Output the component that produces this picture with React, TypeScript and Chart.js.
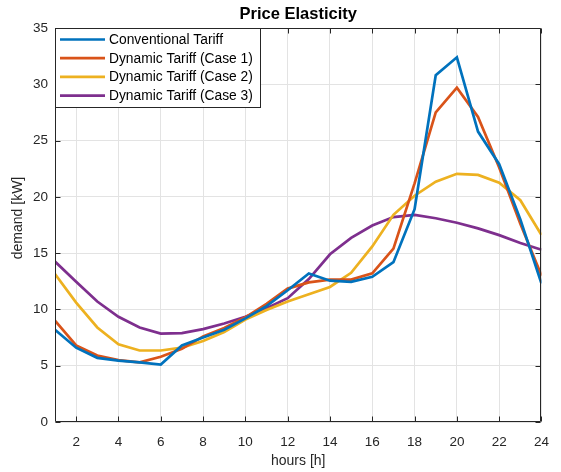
import React, { useEffect, useRef } from "react";
import { Chart, registerables } from "chart.js";

Chart.register(...registerables);

// Hourly demand profiles [kW] under the different tariff schemes
const hours = [1, 2, 3, 4, 5, 6, 7, 8, 9, 10, 11, 12, 13, 14, 15, 16, 17, 18, 19, 20, 21, 22, 23, 24];
const conventionalTariff = [8.2, 6.6, 5.7, 5.45, 5.3, 5.1, 6.8, 7.5, 8.2, 9.2, 10.3, 11.7, 13.2, 12.55, 12.45, 12.9, 14.2, 18.9, 30.8, 32.4, 25.8, 22.9, 18.0, 12.3];
const dynamicCase1 = [9.0, 6.8, 5.9, 5.5, 5.3, 5.8, 6.5, 7.6, 8.35, 9.3, 10.5, 11.85, 12.4, 12.65, 12.65, 13.2, 15.4, 21.2, 27.5, 29.7, 27.1, 22.6, 17.6, 13.0];
const dynamicCase2 = [13.15, 10.6, 8.4, 6.9, 6.35, 6.35, 6.6, 7.2, 8.0, 9.1, 9.95, 10.7, 11.35, 12.0, 13.25, 15.6, 18.4, 20.1, 21.35, 22.05, 21.95, 21.25, 19.7, 16.6];
const dynamicCase3 = [14.25, 12.45, 10.7, 9.35, 8.4, 7.85, 7.9, 8.25, 8.75, 9.35, 10.1, 11.0, 12.7, 14.9, 16.35, 17.45, 18.2, 18.4, 18.1, 17.7, 17.2, 16.6, 15.9, 15.3];

const seriesNames = [
  "Conventional Tariff",
  "Dynamic Tariff (Case 1)",
  "Dynamic Tariff (Case 2)",
  "Dynamic Tariff (Case 3)",
];
const seriesColors = ["#0072BD", "#D95319", "#EDB120", "#7E2F8E"];

const xTickValues = [2, 4, 6, 8, 10, 12, 14, 16, 18, 20, 22, 24];
const yTickValues = [0, 5, 10, 15, 20, 25, 30, 35];

const chartTitle = "Price Elasticity";
const xAxisTitle = "hours [h]";
const yAxisTitle = "demand [kW]";

const FONT = '"Liberation Sans", Arial, Helvetica, sans-serif';
const AXIS_COLOR = "#262626";
const GRID_COLOR = "#e3e3e3";

// Box frame, inward tick marks, titles and the boxed legend
const decorPlugin = {
  id: "decor",
  afterDraw(chart: any) {
    const { ctx, chartArea: a, scales } = chart;
    const xs = scales.x;
    const ys = scales.y;
    const L = Math.round(a.left) + 0.5;
    const R = Math.round(a.right) - 0.5;
    const T = Math.round(a.top) + 0.5;
    const B = Math.round(a.bottom) - 0.5;
    const tick = 5;

    ctx.save();
    ctx.strokeStyle = AXIS_COLOR;
    ctx.lineWidth = 1;
    ctx.beginPath();
    ctx.rect(L, T, R - L, B - T);
    ctx.stroke();

    ctx.beginPath();
    for (const v of xTickValues) {
      const px = Math.round(xs.getPixelForValue(v)) + 0.5;
      ctx.moveTo(px, B);
      ctx.lineTo(px, B - tick);
      ctx.moveTo(px, T);
      ctx.lineTo(px, T + tick);
    }
    for (const v of yTickValues) {
      const py = Math.round(ys.getPixelForValue(v)) + 0.5;
      ctx.moveTo(L, py);
      ctx.lineTo(L + tick, py);
      ctx.moveTo(R, py);
      ctx.lineTo(R - tick, py);
    }
    ctx.stroke();

    // Title
    ctx.fillStyle = "#000000";
    ctx.font = `bold 16.5px ${FONT}`;
    ctx.textAlign = "center";
    ctx.textBaseline = "middle";
    ctx.fillText(chartTitle, (a.left + a.right) / 2, 14.5);

    // Axis titles
    ctx.fillStyle = AXIS_COLOR;
    ctx.font = `14px ${FONT}`;
    ctx.fillText(xAxisTitle, (a.left + a.right) / 2, 461);
    ctx.save();
    ctx.translate(18.5, 218);
    ctx.rotate(-Math.PI / 2);
    ctx.fillText(yAxisTitle, 0, 0);
    ctx.restore();

    // Legend
    const boxL = L;
    const boxT = T;
    const boxW = 205;
    const boxH = 79;
    ctx.fillStyle = "#ffffff";
    ctx.fillRect(boxL, boxT, boxW, boxH);
    ctx.strokeStyle = AXIS_COLOR;
    ctx.strokeRect(boxL, boxT, boxW, boxH);
    const rowY0 = 39.5;
    const rowGap = 18.7;
    chart.data.datasets.forEach((ds: any, i: number) => {
      const ry = rowY0 + i * rowGap;
      ctx.strokeStyle = ds.borderColor;
      ctx.lineWidth = 2.7;
      ctx.beginPath();
      ctx.moveTo(60, ry);
      ctx.lineTo(105, ry);
      ctx.stroke();
      ctx.fillStyle = "#000000";
      ctx.font = `13.8px ${FONT}`;
      ctx.textAlign = "left";
      ctx.textBaseline = "middle";
      ctx.fillText(ds.label, 109, ry + 0.5);
    });
    ctx.restore();
  },
};

export default function App() {
  const canvasRef = useRef<HTMLCanvasElement | null>(null);

  useEffect(() => {
    document.body.style.margin = "0";
    const canvas = canvasRef.current;
    if (!canvas) return;
    const series = [conventionalTariff, dynamicCase1, dynamicCase2, dynamicCase3];
    const chart = new Chart(canvas, {
      type: "line",
      data: {
        datasets: series.map((values, i) => ({
          label: seriesNames[i],
          data: hours.map((h, k) => ({ x: h, y: values[k] })),
          borderColor: seriesColors[i],
          backgroundColor: seriesColors[i],
          borderWidth: 2.7,
          pointRadius: 0,
          tension: 0,
          fill: false,
        })),
      },
      options: {
        responsive: false,
        animation: false,
        devicePixelRatio: 1,
        layout: { padding: { left: 0, right: 8, top: 28, bottom: 0 } },
        plugins: {
          legend: { display: false },
          title: { display: false },
          tooltip: { enabled: false },
        },
        scales: {
          x: {
            type: "linear",
            min: 1,
            max: 24,
            afterBuildTicks: (scale: any) => {
              scale.ticks = xTickValues.map((v) => ({ value: v }));
            },
            afterFit: (scale: any) => {
              scale.height = 50;
            },
            grid: { color: GRID_COLOR, drawTicks: false, lineWidth: 1 },
            border: { display: false },
            ticks: {
              autoSkip: false,
              maxRotation: 0,
              padding: 12,
              color: AXIS_COLOR,
              font: { family: FONT, size: 13.5 },
            },
          },
          y: {
            type: "linear",
            min: 0,
            max: 35,
            afterBuildTicks: (scale: any) => {
              scale.ticks = yTickValues.map((v) => ({ value: v }));
            },
            afterFit: (scale: any) => {
              scale.width = 55;
            },
            grid: { color: GRID_COLOR, drawTicks: false, lineWidth: 1 },
            border: { display: false },
            ticks: {
              padding: 7,
              color: AXIS_COLOR,
              font: { family: FONT, size: 13.5 },
            },
          },
        },
      },
      plugins: [decorPlugin],
    });
    return () => chart.destroy();
  }, []);

  return (
    <div style={{ width: 561, height: 472, background: "#ffffff" }}>
      <canvas ref={canvasRef} width={561} height={472} style={{ display: "block" }} />
    </div>
  );
}
